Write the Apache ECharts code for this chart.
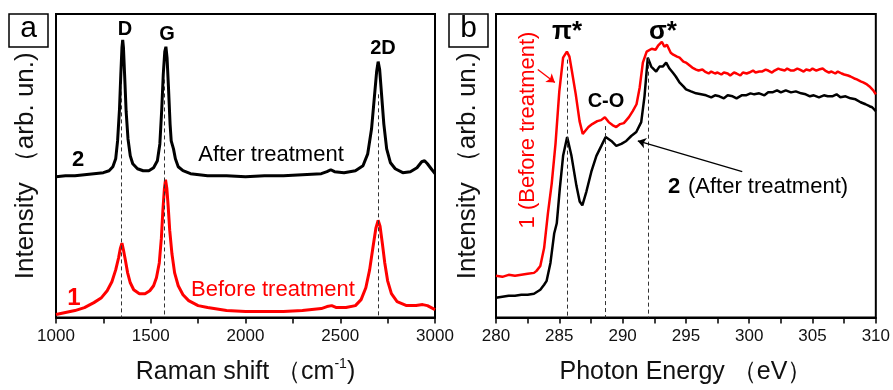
<!DOCTYPE html>
<html>
<head>
<meta charset="utf-8">
<script src="https://cdn.jsdelivr.net/npm/echarts@6/dist/echarts.min.js"></script>
<style>
  html, body { margin: 0; padding: 0; background: #fff; }
  #chart { width: 893px; height: 390px; }
</style>
</head>
<body>
<div id="chart"></div>
<script>
/*
    Two panels: (a) Raman spectra, (b) C K-edge NEXAFS.
    Intensities are arbitrary units.
*/

// panel a - Raman shift (cm-1) vs intensity
var ramanAfter = [
  [1000,142],[1050,143],[1100,143],[1150,144],[1200,145],[1250,146],[1280,148],[1300,152],
  [1315,160],[1325,178],[1335,210],[1342,245],[1348,272],[1352,280],[1356,272],[1362,245],
  [1370,208],[1380,180],[1392,163],[1405,155],[1430,150],[1460,148],[1490,148],[1515,151],
  [1535,158],[1548,175],[1558,210],[1566,245],[1574,268],[1580,273],[1586,262],[1594,230],
  [1602,195],[1608,178],[1614,174],[1620,170],[1630,160],[1645,152],[1670,148],[1710,145],
  [1800,143],[1900,143],[2000,142],[2100,143],[2200,143],[2300,144],[2400,145],[2430,147],
  [2450,149],[2470,147],[2520,146],[2580,148],[2620,153],[2645,165],[2665,190],[2680,222],
  [2692,248],[2700,258],[2708,250],[2718,225],[2730,195],[2745,170],[2765,156],[2790,150],
  [2830,146],[2870,147],[2905,151],[2930,157],[2945,158],[2960,155],[2980,150],[3000,145]
];
var ramanBefore = [
  [1000,3],[1050,5],[1100,7],[1150,10],[1200,15],[1240,20],[1270,27],[1295,36],[1315,48],
  [1330,60],[1340,70],[1348,75],[1356,68],[1366,58],[1378,45],[1392,35],[1410,28],[1440,24],
  [1470,24],[1495,27],[1515,32],[1530,40],[1545,55],[1556,80],[1564,108],[1572,130],[1578,139],
  [1585,130],[1592,112],[1600,88],[1612,64],[1626,45],[1645,32],[1670,23],[1700,17],[1750,12],
  [1800,10],[1900,7],[2000,6],[2100,6],[2200,6],[2300,7],[2400,9],[2430,11],[2455,12],[2480,10],
  [2530,10],[2580,12],[2610,18],[2635,30],[2655,48],[2672,70],[2688,90],[2700,98],[2710,92],
  [2722,75],[2735,55],[2750,37],[2770,24],[2800,16],[2850,12],[2900,12],[2935,13],[2960,12],[3000,8]
];
var ramanPeaks = [['D', 1343, 235], ['G', 1572, 240], ['2D', 2700, 225]];
var ramanTicks = [1000, 1500, 2000, 2500, 3000];

// panel b - photon energy (eV) vs intensity
var nexafsBefore = [
  [280,42],[280.5,41],[281,43],[281.5,42],[282,43],[282.5,44],[283,45],[283.2,47],[283.5,52],
  [283.8,70],[284.1,105],[284.4,135],[284.7,175],[285.0,228],[285.3,262],[285.6,268],[285.8,263],
  [286.0,248],[286.3,225],[286.6,198],[286.85,185],[287.0,186],[287.3,192],[287.6,195],[288.0,198],
  [288.3,199],[288.6,202],[288.9,197],[289.2,194],[289.5,192],[289.8,195],[290.1,196],[290.5,202],
  [290.8,208],[291.1,215],[291.35,232],[291.6,257],[291.9,268],[292.3,271],[292.6,270],[292.8,274],
  [293.1,278],[293.3,273],[293.5,275],[293.8,267],[294.0,265],[294.3,263],[294.5,262],[294.8,258],
  [295.0,257],[295.3,254],[295.5,252],[295.8,250],[296,249],[296.3,250],[296.5,248],[296.8,246],
  [297,248],[297.3,246],[297.5,247],[297.8,245],[298,247],[298.3,246],[298.5,244],[298.8,247],
  [299,246],[299.3,244],[299.5,247],[299.8,246],[300,247],[300.3,249],[300.5,247],[300.8,248],
  [301,248],[301.3,250],[301.5,249],[301.8,247],[302,249],[302.3,251],[302.5,250],[302.8,249],
  [303,251],[303.3,249],[303.5,249],[303.8,251],[304,250],[304.3,248],[304.5,250],[304.8,249],
  [305,251],[305.3,249],[305.5,250],[305.8,251],[306,249],[306.3,247],[306.5,248],[306.8,246],
  [307,248],[307.3,246],[307.5,245],[307.8,244],[308,243],[308.3,241],[308.5,240],[308.8,238],
  [309,237],[309.3,235],[309.5,233],[309.8,229],[310,225]
];
var nexafsAfter = [
  [280,20],[280.5,21],[281,22],[281.5,22],[282,23],[282.5,23],[283,24],[283.5,28],[283.8,33],
  [284.0,37],[284.3,55],[284.6,85],[284.8,95],[285.04,130],[285.3,163],[285.62,182],[285.96,163],
  [286.35,133],[286.61,117],[286.82,113],[287.14,127],[287.53,147],[287.93,163],[288.32,173],
  [288.66,182],[289.11,178],[289.5,173],[289.9,175],[290.29,178],[290.68,183],[291.08,187],
  [291.47,197],[291.73,223],[291.99,262],[292.26,253],[292.65,248],[292.91,253],[293.17,253],
  [293.44,257],[293.7,251],[293.96,247],[294.2,243],[294.49,237],[294.8,233],[295.01,230],
  [295.4,228],[295.8,226],[296.2,225],[296.59,224],[297.0,222],[297.3,224],[297.64,223],
  [298.0,221],[298.3,224],[298.69,223],[299.0,221],[299.4,224],[299.74,224],[300.1,226],
  [300.4,225],[300.79,226],[301.2,224],[301.5,227],[301.83,227],[302.2,229],[302.5,227],
  [302.89,229],[303.3,227],[303.68,228],[304.1,226],[304.46,225],[304.8,223],[305.1,224],
  [305.51,222],[305.9,224],[306.2,223],[306.56,223],[306.9,225],[307.2,222],[307.61,223],
  [308.0,221],[308.4,220],[308.8,217],[309.19,215],[309.5,213],[309.71,212],[310,208]
];
var nexafsPeaks = [['π*', 285.6, 260], ['C-O', 288.6, 193], ['σ*', 292.0, 262]];
var nexafsTicks = [280, 285, 290, 295, 300, 305, 310];

var FONT = 'Liberation Sans, Arial, sans-serif';

function dashLines(peaks) {
  return peaks.map(function (p) {
    return [{ coord: [p[1], p[2]] }, { coord: [p[1], 0] }];
  });
}

function xAxisFor(gi, min, max, step, ticks, nameRich, nameGap) {
  return {
    gridIndex: gi, type: 'value', min: min, max: max, interval: step,
    name: nameRich, nameLocation: 'middle', nameGap: nameGap,
    nameTextStyle: {
      rich: {
        t: { fontSize: 25, fontFamily: FONT, color: '#111', lineHeight: 30 },
        s: { fontSize: 14, fontFamily: FONT, color: '#111', verticalAlign: 'top', lineHeight: 30 }
      }
    },
    axisLine: { show: true, onZero: false, lineStyle: { color: '#000', width: 2 } },
    axisTick: { show: true, inside: false, length: 6, lineStyle: { color: '#000', width: 1.5 } },
    minorTick: { show: true, splitNumber: 2, length: 6, lineStyle: { color: '#000', width: 1.5 } },
    splitLine: { show: false },
    axisLabel: {
      fontSize: 17, fontFamily: FONT, color: '#111', margin: 10,
      showMinLabel: true, showMaxLabel: true,
      formatter: function (v) { return ticks.indexOf(v) >= 0 ? String(v) : ''; }
    }
  };
}

function yAxisFor(gi, nameGap) {
  return {
    gridIndex: gi, type: 'value', min: 0, max: 306,
    name: 'Intensity （arb. un.)', nameLocation: 'middle', nameGap: nameGap,
    nameTextStyle: { fontSize: 26, fontFamily: FONT, color: '#111' },
    axisLine: { show: true, onZero: false, lineStyle: { color: '#000', width: 2 } },
    axisTick: { show: false }, axisLabel: { show: false }, splitLine: { show: false }
  };
}

function txt(x, y, s, size, color, bold, rot) {
  return {
    type: 'text', x: x, y: y, rotation: rot || 0, z: 10,
    style: {
      text: s, fontSize: size, fontFamily: FONT, fontWeight: bold ? 'bold' : 'normal',
      fill: color, align: 'center', verticalAlign: 'middle'
    }
  };
}

var dashStyle = { color: '#333', width: 1, type: [4, 3] };

var option = {
  animation: false,
  backgroundColor: '#fff',
  grid: [
    { left: 56, top: 14, width: 379, height: 306, show: true, borderColor: '#000', borderWidth: 2 },
    { left: 496, top: 14, width: 381, height: 306, show: true, borderColor: '#000', borderWidth: 2 }
  ],
  xAxis: [
    xAxisFor(0, 1000, 3000, 500, ramanTicks, '{t|Raman shift （cm}{s|-1}{t|)}', 40),
    xAxisFor(1, 280, 310, 5, nexafsTicks, '{t|Photon Energy （eV）}', 40)
  ],
  yAxis: [yAxisFor(0, 17), yAxisFor(1, 15)],
  series: [
    {
      type: 'line', xAxisIndex: 0, yAxisIndex: 0, data: ramanAfter, showSymbol: false,
      lineStyle: { color: '#000', width: 3 }, z: 3,
      markLine: { silent: true, symbol: 'none', label: { show: false }, lineStyle: dashStyle, data: dashLines(ramanPeaks) }
    },
    {
      type: 'line', xAxisIndex: 0, yAxisIndex: 0, data: ramanBefore, showSymbol: false,
      lineStyle: { color: '#ff0000', width: 3 }, z: 3
    },
    {
      type: 'line', xAxisIndex: 1, yAxisIndex: 1, data: nexafsBefore, showSymbol: false,
      lineStyle: { color: '#ff0000', width: 2.5 }, z: 3,
      markLine: {
        silent: true, symbol: ['none', 'arrow'], symbolSize: 8, label: { show: false },
        lineStyle: { color: '#ff0000', width: 1.3, type: 'solid' },
        data: [[{ coord: [283.3, 250] }, { coord: [284.65, 237] }]]
      }
    },
    {
      type: 'line', xAxisIndex: 1, yAxisIndex: 1, data: nexafsAfter, showSymbol: false,
      lineStyle: { color: '#000', width: 2.5 }, z: 3,
      markLine: {
        silent: true, symbol: 'none', label: { show: false }, lineStyle: dashStyle,
        data: dashLines(nexafsPeaks)
      }
    },
    {
      // black pointer to curve 2
      type: 'line', xAxisIndex: 1, yAxisIndex: 1, data: [], showSymbol: false,
      markLine: {
        silent: true, symbol: ['none', 'arrow'], symbolSize: 8, label: { show: false },
        lineStyle: { color: '#000', width: 1.3, type: 'solid' },
        data: [[{ coord: [299.45, 147] }, { coord: [291.2, 178] }]]
      }
    }
  ],
  graphic: [
    { type: 'rect', shape: { x: 9, y: 14, width: 39, height: 33 }, style: { fill: '#fff', stroke: '#000', lineWidth: 1.5 }, z: 10 },
    txt(28.5, 29, 'a', 30, '#000', false),
    { type: 'rect', shape: { x: 449, y: 14, width: 39, height: 33 }, style: { fill: '#fff', stroke: '#000', lineWidth: 1.5 }, z: 10 },
    txt(468.5, 29, 'b', 30, '#000', false),

    txt(125, 29, 'D', 20, '#000', true),
    txt(167, 34, 'G', 20, '#000', true),
    txt(383, 48, '2D', 20, '#000', true),
    txt(78, 160, '2', 22, '#000', true),
    txt(271, 155, 'After treatment', 22, '#000', false),
    txt(74, 298, '1', 24, '#ff0000', true),
    txt(273, 290, 'Before treatment', 22, '#ff0000', false),

    txt(567, 32, 'π*', 26, '#000', true),
    txt(663, 32, 'σ*', 26, '#000', true),
    txt(606, 101, 'C-O', 20, '#000', true),
    txt(528, 130, '1 (Before treatment)', 22, '#ff0000', false, Math.PI / 2),
    txt(674, 187, '2', 22, '#000', true),
    txt(768, 187, '(After treatment)', 22, '#000', false)
  ]
};

var myChart = echarts.init(document.getElementById('chart'));
myChart.setOption(option);
</script>
</body>
</html>
